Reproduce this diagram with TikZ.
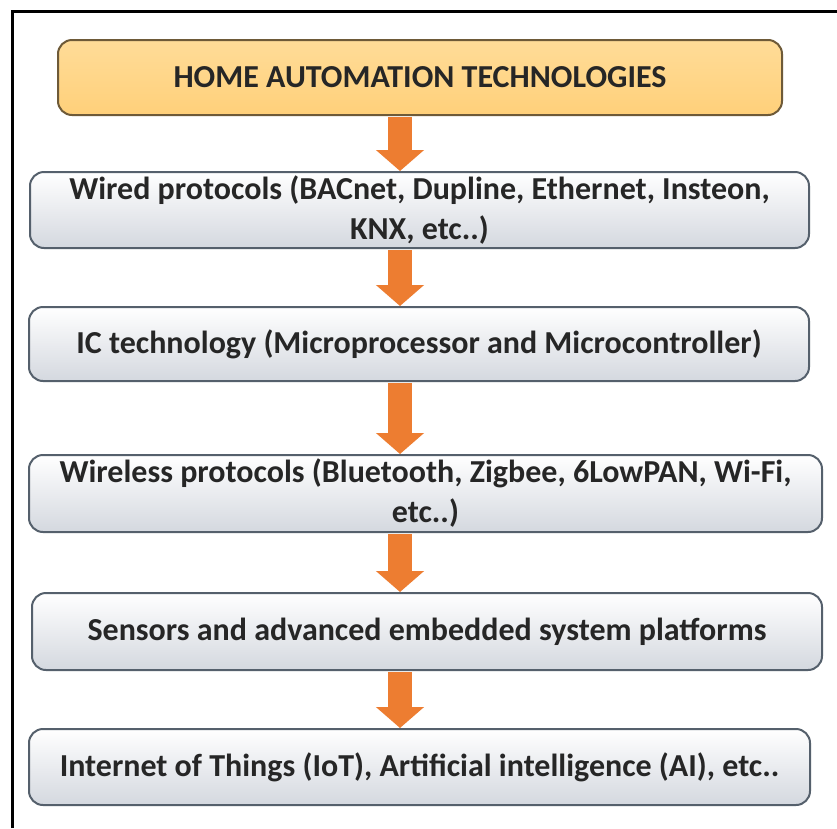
\documentclass[tikz,border=0pt]{standalone}
\usepackage{fontspec}
\setmainfont{Carlito}
\usetikzlibrary{arrows.meta,shadows}
\definecolor{arrorange}{HTML}{ED7D31}
\definecolor{boxline}{HTML}{55606C}
\definecolor{homeline}{HTML}{6E5A38}
\definecolor{hometop}{HTML}{FFDC98}
\definecolor{homebot}{HTML}{FFD07A}
\definecolor{boxbot}{HTML}{D4D8DF}
\begin{document}
\begin{tikzpicture}[x=1pt,y=-1pt,
  stagebox/.style={draw=boxline, line width=2pt, rounded corners=14pt,
    top color=white, bottom color=boxbot, align=center,
    font=\fontsize{32}{40}\selectfont\bfseries, inner sep=0pt,
    text=black!85},
  homebox/.style={stagebox, draw=homeline, top color=hometop, bottom color=homebot},
  flow/.style={arrorange, line width=24pt,
    -{Triangle[width=47pt,length=21pt]}, shorten <=1pt}]
\useasboundingbox (0,0) rectangle (837,828);
\fill[white] (0,0) rectangle (837,828);
\draw[line width=3pt] (12,828) -- (12,11.5) -- (837,11.5);
\coordinate (ax) at (400,0);
\node[homebox, minimum width=724pt, minimum height=75pt] (h) at (420,77.5) {HOME AUTOMATION TECHNOLOGIES};
\node[stagebox, minimum width=779pt, minimum height=76pt] (w) at (419.5,210) {Wired protocols (BACnet, Dupline, Ethernet, Insteon,\\KNX, etc..)};
\node[stagebox, minimum width=780pt, minimum height=74pt] (ic) at (419,344) {IC technology (Microprocessor and Microcontroller)};
\node[stagebox, minimum width=793pt, minimum height=77pt] (wl) at (425.5,493.5) {Wireless protocols (Bluetooth, Zigbee, 6LowPAN, Wi-Fi,\\etc..)};
\node[stagebox, minimum width=790pt, minimum height=77pt] (s) at (427,631.5) {Sensors and advanced embedded system platforms};
\node[stagebox, minimum width=781pt, minimum height=76pt] (iot) at (419.5,767) {Internet of Things (IoT), Artificial intelligence (AI), etc..};
\draw[flow] (h.south -| ax) -- (w.north -| ax);
\draw[flow] (w.south -| ax) -- (ic.north -| ax);
\draw[flow] (ic.south -| ax) -- (wl.north -| ax);
\draw[flow] (wl.south -| ax) -- (s.north -| ax);
\draw[flow] (s.south -| ax) -- (iot.north -| ax);
\end{tikzpicture}
\end{document}
